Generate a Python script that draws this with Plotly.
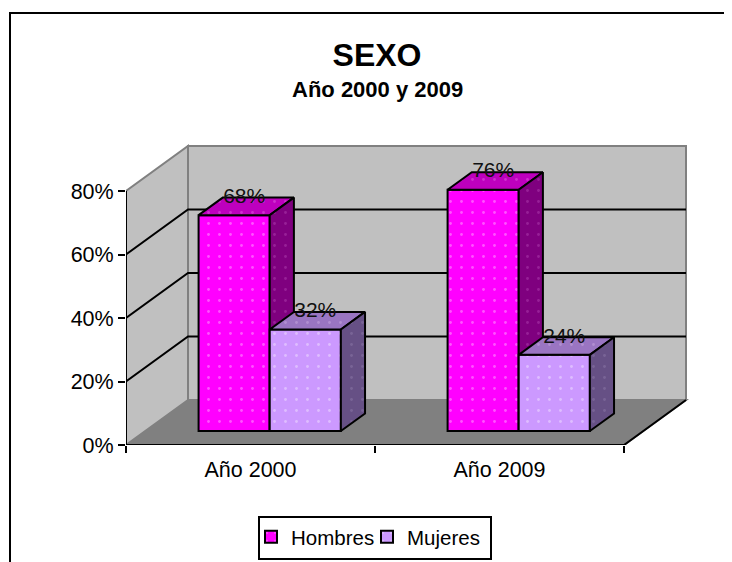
import numpy as np
import plotly.graph_objects as go

# datos
categorias = ["Año 2000", "Año 2009"]
hombres = [68, 76]
mujeres = [32, 24]
ticks_y = [0, 20, 40, 60, 80]

# proyeccion oblicua, en unidades de los ejes (1 categoria en x, 1 % en y)
PX_X = 249
PX_Y = 3.175
PARED_DX = 62 / PX_X
PARED_DY = 45 / PX_Y
FRENTE = 0.31  # hueco entre el borde del suelo y la cara frontal de las barras
FONDO = 0.39  # profundidad de la barra respecto al suelo
ANCHO = 1 / 3.5

FUENTE = "Liberation Sans"

# la pagina deja 8 px de margen en el body
PAGINA = 8
ANCHO_FIG, ALTO_FIG = 732 - PAGINA, 562 - PAGINA

# area de trazado, en pixeles de la ventana
IZQ, ABAJO = 126, 445
DER, ARRIBA = 700, 130


def papel_x(px):
    return (px - IZQ) / (DER - IZQ)


def papel_y(py):
    return (ABAJO - py) / (ABAJO - ARRIBA)


def poligono(puntos):
    return "M" + "L".join(f"{x},{y}" for x, y in puntos) + "Z"


def pared(puntos, color):
    return dict(type="path", xref="x", yref="y", layer="below", path=poligono(puntos),
                fillcolor=color, line=dict(color="#808080", width=2))


def cara(puntos, color, punto):
    xs = [p[0] for p in puntos] + [puntos[0][0]]
    ys = [p[1] for p in puntos] + [puntos[0][1]]
    return dict(x=xs, y=ys, mode="lines", fill="toself", fillcolor=color,
                fillpattern=dict(shape=".", fgcolor=punto, bgcolor=color, size=11, solidity=0.05),
                line=dict(color="black", width=2), hoverinfo="skip", showlegend=False)


fig = go.Figure()

x_base = np.arange(len(categorias)) + 0.5 + FRENTE * PARED_DX
y_base = FRENTE * PARED_DY
dx = FONDO * PARED_DX
dy = FONDO * PARED_DY

series = [
    ("Hombres", hombres, -ANCHO, "#FF00FF", "#BE00BE", "#7F007F", "#FFA8FF", "#E060E0", "#B040B0", 1),
    ("Mujeres", mujeres, 0, "#CC99FF", "#9A75C2", "#665085", "#F2E2FF", "#C8A8E0", "#8C78A8", 2),
]

etiquetas_x, etiquetas_y, etiquetas = [], [], []
for nombre, valores, desfase, frontal, superior, lateral, p_f, p_s, p_l, capa in series:
    fig.add_trace(go.Bar(
        x=x_base, y=valores, base=y_base, name=nombre, offset=desfase, width=ANCHO, zorder=capa,
        marker=dict(color=frontal, line=dict(color="black", width=2),
                    pattern=dict(shape=".", fgcolor=p_f, bgcolor=frontal, size=11, solidity=0.05)),
    ))
    for xc, valor in zip(x_base, valores):
        x0 = xc + desfase
        x1 = x0 + ANCHO
        y1 = y_base + valor
        fig.add_trace(go.Scatter(zorder=capa, **cara(
            [(x0, y1), (x1, y1), (x1 + dx, y1 + dy), (x0 + dx, y1 + dy)], superior, p_s)))
        fig.add_trace(go.Scatter(zorder=capa, **cara(
            [(x1, y_base), (x1, y1), (x1 + dx, y1 + dy), (x1 + dx, y_base + dy)], lateral, p_l)))
        etiquetas_x.append((x0 + x1) / 2 + 10 / PX_X)
        etiquetas_y.append(y1 + dy)
        etiquetas.append(f"{valor}%")

fig.add_trace(go.Scatter(
    x=etiquetas_x, y=etiquetas_y, text=etiquetas, mode="text", textposition="middle center",
    textfont=dict(family=FUENTE, size=21, color="#111111"), showlegend=False, zorder=3,
    hoverinfo="skip", cliponaxis=False,
))

# lineas frontales de los ejes
n = len(categorias)
fig.add_trace(go.Scatter(
    x=[0, 0, n, n + PARED_DX], y=[ticks_y[-1], 0, 0, PARED_DY], mode="lines",
    line=dict(color="black", width=2), showlegend=False, hoverinfo="skip", cliponaxis=False, zorder=0,
))

formas = [
    pared([(0, 0), (n, 0), (n + PARED_DX, PARED_DY), (PARED_DX, PARED_DY)], "#808080"),
    pared([(0, 0), (PARED_DX, PARED_DY), (PARED_DX, ticks_y[-1] + PARED_DY), (0, ticks_y[-1])], "#C0C0C0"),
    pared([(PARED_DX, PARED_DY), (n + PARED_DX, PARED_DY), (n + PARED_DX, ticks_y[-1] + PARED_DY),
           (PARED_DX, ticks_y[-1] + PARED_DY)], "#C0C0C0"),
]
for t in ticks_y[1:-1]:
    formas.append(dict(type="path", xref="x", yref="y", layer="below",
                       path=f"M0,{t}L{PARED_DX},{t + PARED_DY}L{n + PARED_DX},{t + PARED_DY}",
                       line=dict(color="black", width=2)))

# marco exterior (sigue mas alla de la ventana por la derecha y por abajo) y recuadro de la leyenda
formas.append(dict(type="rect", xref="paper", yref="paper", x0=papel_x(10), x1=papel_x(760),
                   y0=papel_y(600), y1=papel_y(13), line=dict(color="black", width=2), layer="below"))
formas.append(dict(type="rect", xref="paper", yref="paper", x0=papel_x(259), x1=papel_x(491),
                   y0=papel_y(559), y1=papel_y(517), line=dict(color="black", width=2), layer="below"))

fig.update_layout(
    width=ANCHO_FIG, height=ALTO_FIG,
    margin=dict(l=IZQ - PAGINA, r=ANCHO_FIG - (DER - PAGINA), t=ARRIBA - PAGINA, b=ALTO_FIG - (ABAJO - PAGINA),
                autoexpand=False),
    paper_bgcolor="white", plot_bgcolor="white",
    barmode="overlay", shapes=formas,
    font=dict(family=FUENTE, size=20, color="black"),
    title=dict(text="<b>SEXO</b>", x=(377 - PAGINA) / ANCHO_FIG, xanchor="center",
               y=1 - (55 - PAGINA) / ALTO_FIG, yanchor="middle",
               font=dict(family=FUENTE, size=32, color="black")),
    annotations=[dict(text="<b>Año 2000 y 2009</b>", xref="paper", yref="paper", x=papel_x(377),
                      y=papel_y(89), showarrow=False, xanchor="center", yanchor="middle",
                      font=dict(family=FUENTE, size=22, color="black"))],
    legend=dict(orientation="h", x=papel_x(251), xanchor="left", y=papel_y(537), yanchor="middle",
                entrywidth=71, entrywidthmode="pixels", bgcolor="rgba(0,0,0,0)", borderwidth=0,
                font=dict(family=FUENTE, size=20.5, color="black")),
    xaxis=dict(range=[0, (DER - IZQ) / PX_X], tickmode="array", tickvals=np.arange(n) + 0.5,
               ticktext=categorias, ticks="", showgrid=False, zeroline=False, showline=False,
               ticklabelstandoff=9, tickfont=dict(size=21.5),
               minor=dict(tickmode="array", tickvals=list(range(n + 1)), ticks="outside", ticklen=7,
                          tickwidth=2, tickcolor="black", showgrid=False)),
    yaxis=dict(range=[0, (ABAJO - ARRIBA) / PX_Y], tickmode="array", tickvals=ticks_y,
               ticktext=[f"{t}%" for t in ticks_y], ticks="outside", ticklen=7, tickwidth=2,
               tickcolor="black", tickfont=dict(size=21.5), showgrid=False, zeroline=False, showline=False),
)

fig.write_html("out.html")
